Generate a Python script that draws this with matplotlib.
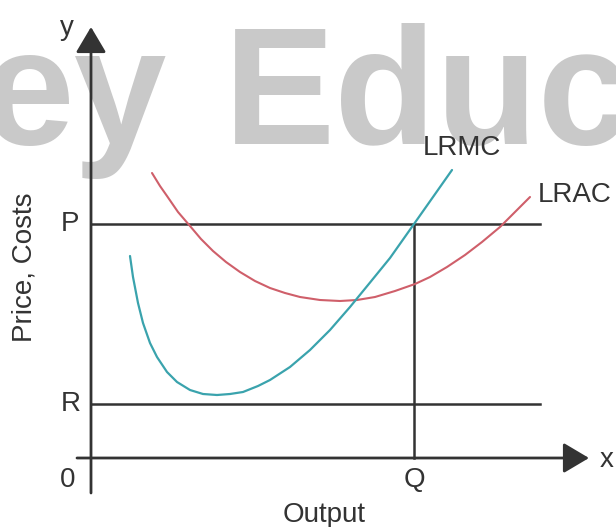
import matplotlib as mpl
mpl.use('Agg')
import matplotlib.pyplot as plt

# price levels and the output where LRMC meets P
price_p = 234
price_r = 54
output_q = 323
line_end = 449

# long-run marginal cost curve (output, cost)
lrmc_x = [39, 42, 47, 52, 59, 66, 76, 86, 99, 112, 126, 139, 152, 167, 179,
          199, 219, 239, 259, 277, 299, 323, 342, 361]
lrmc_y = [202, 181, 155, 135, 115, 101, 86, 76, 68, 64, 63, 64, 66, 72, 78,
          91, 108, 128, 151, 173, 200, 234, 261, 288]

# long-run average cost curve (output, cost)
lrac_x = [61, 69, 76, 87, 99, 110, 122, 135, 149, 164, 179, 194, 209, 229,
          249, 266, 284, 304, 324, 339, 356, 374, 391, 409, 424, 439]
lrac_y = [285, 272, 262, 246, 232, 219, 207, 196, 186, 177, 170, 165, 161,
          158, 157, 158, 161, 167, 174, 181, 191, 203, 216, 231, 246, 261]

plt.rcParams['font.family'] = ['Liberation Sans', 'DejaVu Sans']

ink = '#333333'
teal = '#3aa3ad'
red = '#cf5f6a'

fig = plt.figure(figsize=(6.16, 5.27), dpi=100)
ax = fig.add_axes([0, 0, 1, 1])
ax.set_xlim(-91, 525)
ax.set_ylim(-69, 458)
ax.axis('off')

# watermark behind everything
wm = dict(fontsize=120, fontweight='bold', color='#c9c9c9', va='baseline', zorder=0)
ax.text(76, 314, 'ey', ha='right', **wm)
ax.text(133, 314, 'Educ', ha='left', **wm)

# axes with arrow heads
head = '-|>,head_length=1.13,head_width=0.67'
ax.annotate('', xy=(0, 431), xytext=(0, -35),
            arrowprops=dict(arrowstyle=head, mutation_scale=14, color=ink,
                            lw=2, shrinkA=0, shrinkB=0), zorder=3)
ax.annotate('', xy=(498, 0), xytext=(-14, 0),
            arrowprops=dict(arrowstyle=head, mutation_scale=14, color=ink,
                            lw=2, shrinkA=0, shrinkB=0), zorder=3)

# price lines and output drop line
ax.plot([0, line_end], [price_p, price_p], color=ink, lw=1.8, zorder=2)
ax.plot([0, line_end], [price_r, price_r], color=ink, lw=1.8, zorder=2)
ax.plot([output_q, output_q], [0, price_p], color=ink, lw=1.8, zorder=2)

# cost curves
ax.plot(lrac_x, lrac_y, color=red, lw=1.5, zorder=4,
        solid_capstyle='round', solid_joinstyle='round')
ax.plot(lrmc_x, lrmc_y, color=teal, lw=1.6, zorder=5,
        solid_capstyle='round', solid_joinstyle='round')

fs = 20
ax.text(-24, 430, 'y', fontsize=fs, color=ink, ha='center', va='center')
ax.text(516, -2, 'x', fontsize=fs, color=ink, ha='center', va='center')
ax.text(-23, -22, '0', fontsize=fs, color=ink, ha='center', va='center')
ax.text(output_q, -22, 'Q', fontsize=fs, color=ink, ha='center', va='center')
ax.text(233, -57, 'Output', fontsize=fs, color=ink, ha='center', va='center')
ax.text(-21, price_p, 'P', fontsize=fs, color=ink, ha='center', va='center')
ax.text(-20, price_r, 'R', fontsize=fs, color=ink, ha='center', va='center')
ax.text(-66, 191, 'Price, Costs', fontsize=fs, color=ink, ha='center',
        va='center', rotation=90)
ax.text(371, 310, 'LRMC', fontsize=fs, color=ink, ha='center', va='center')
ax.text(484, 263, 'LRAC', fontsize=fs, color=ink, ha='center', va='center')

fig.savefig('out.png', dpi=100)
